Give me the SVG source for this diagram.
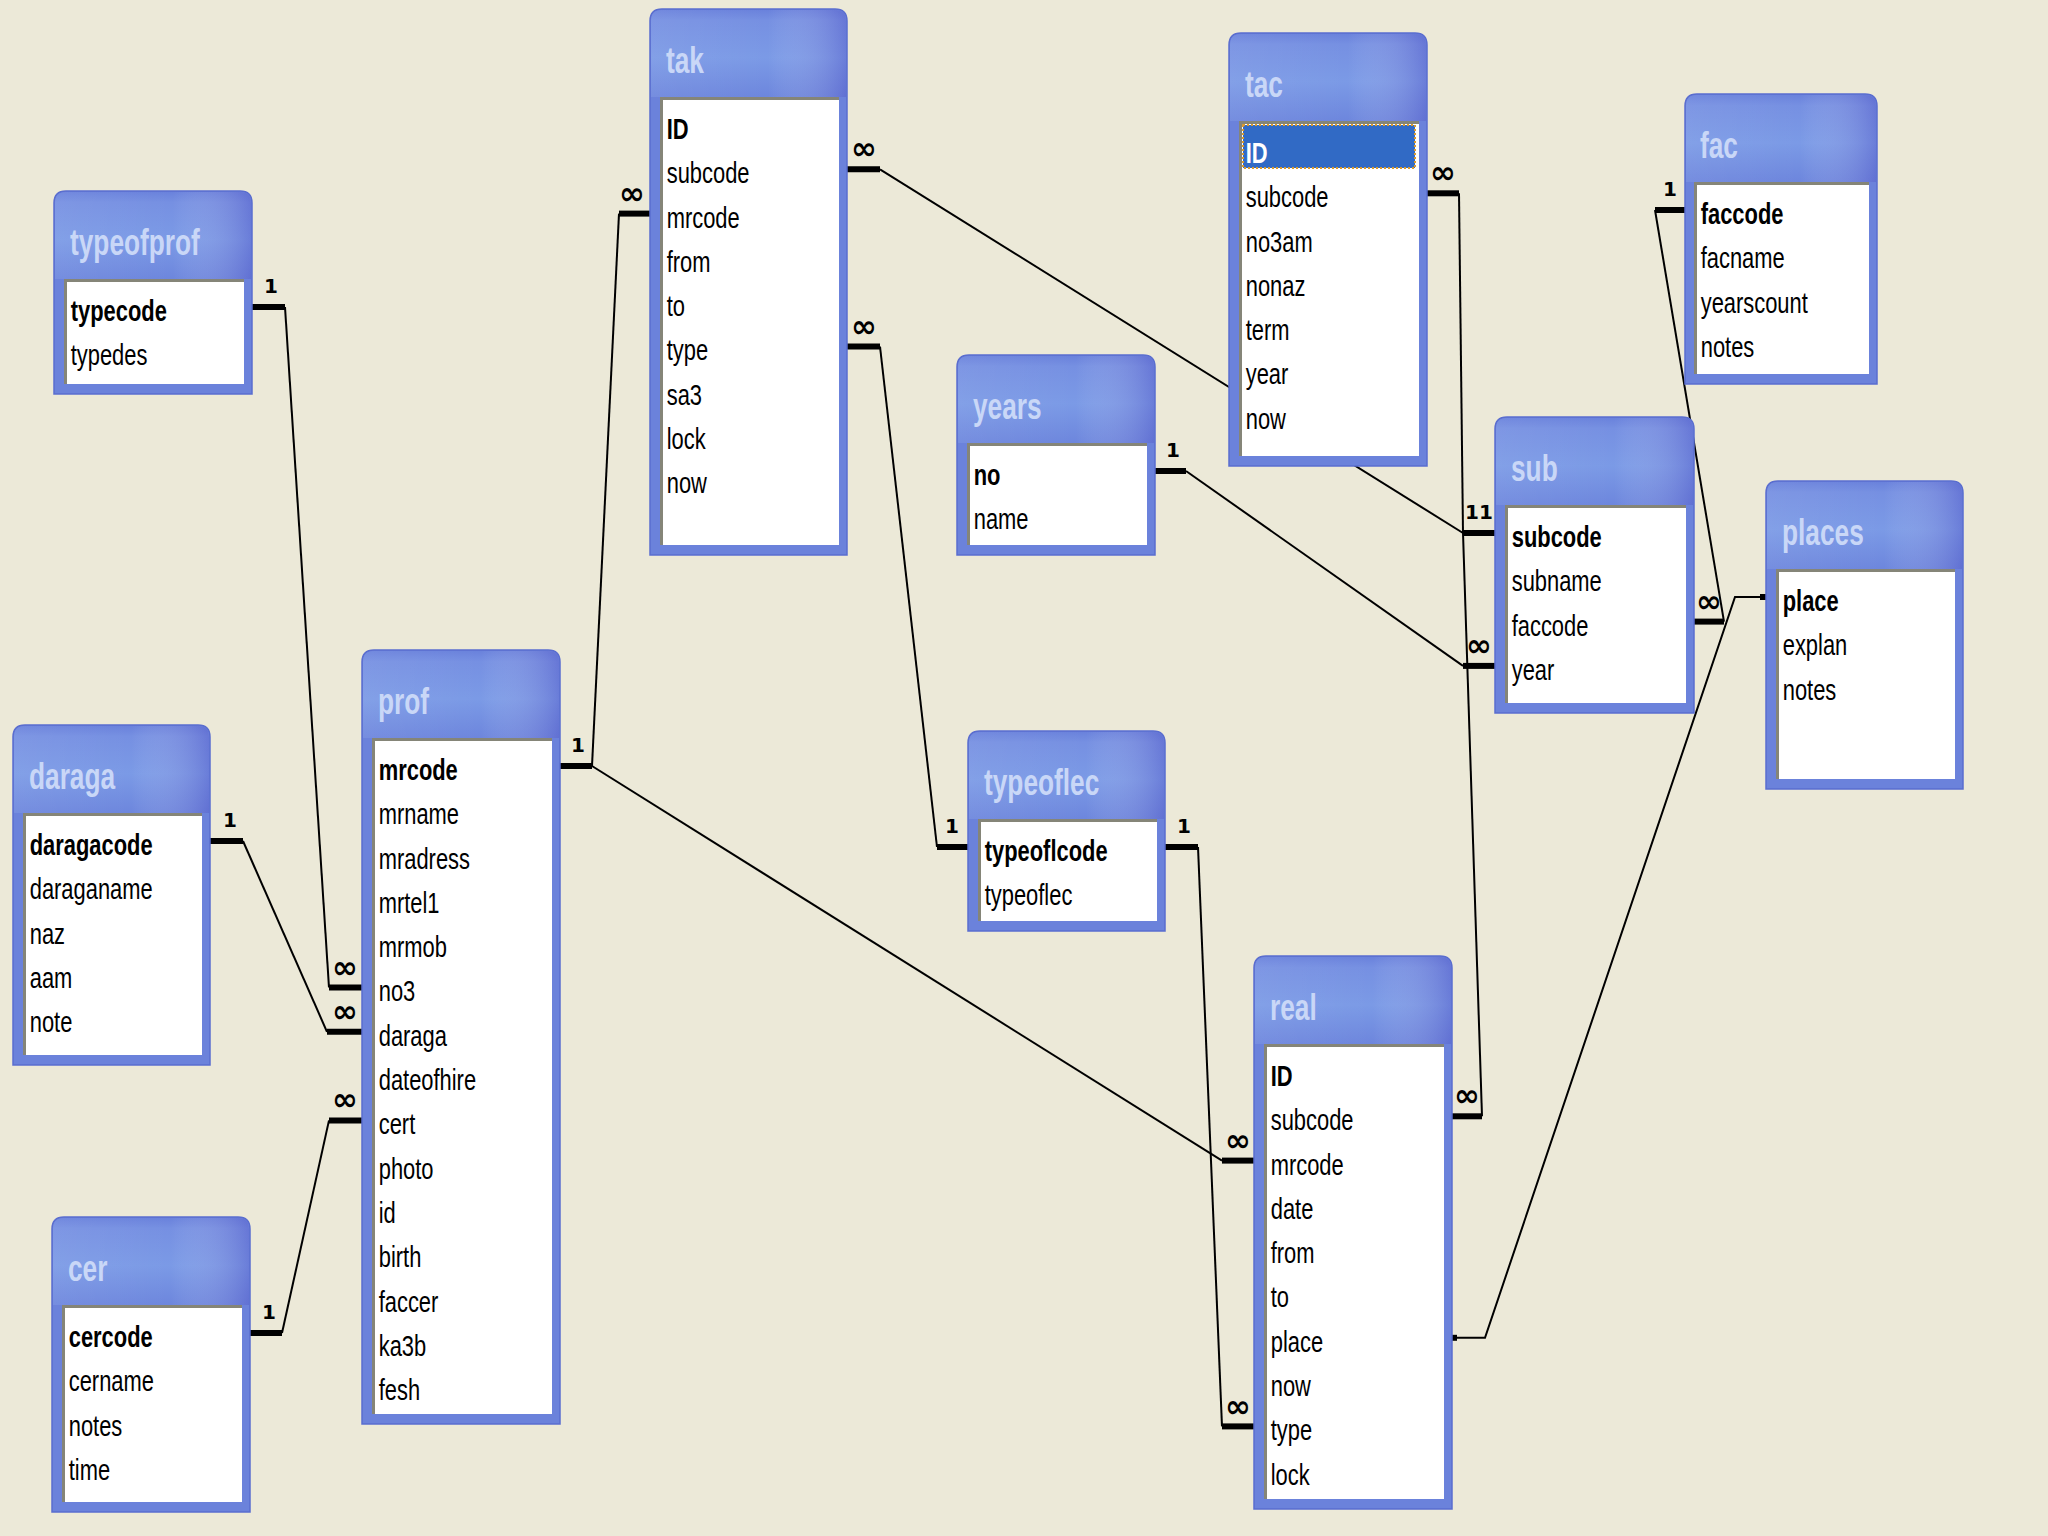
<svg xmlns="http://www.w3.org/2000/svg" width="2048" height="1536" viewBox="0 0 2048 1536">
<defs>
<linearGradient id="hg" x1="0" y1="0" x2="0" y2="1">
<stop offset="0" stop-color="#6a82dc"/>
<stop offset="0.12" stop-color="#7690e2"/>
<stop offset="0.55" stop-color="#7b9ae6"/>
<stop offset="1" stop-color="#6d86dd"/>
</linearGradient>
<linearGradient id="hh" x1="0" y1="0" x2="1" y2="0">
<stop offset="0" stop-color="#ffffff" stop-opacity="0.06"/>
<stop offset="0.6" stop-color="#ffffff" stop-opacity="0"/>
<stop offset="1" stop-color="#4a48c0" stop-opacity="0.35"/>
</linearGradient>
</defs>
<style>
.bg{fill:#ECE9D8}
.frame{fill:#6b82db;stroke:#5a6dcf;stroke-width:1.5}
.hdr{fill:url(#hg)}
.hov{fill:url(#hh)}
.list{fill:#ffffff}
.bev{fill:none;stroke:#858578;stroke-width:3}
.t{font-family:"Liberation Sans",Arial,sans-serif;font-size:36px;font-weight:bold;fill:#c9d7f7}
.f{font-family:"Liberation Sans",Arial,sans-serif;font-size:30px;fill:#000}
.k{font-weight:bold}
.thin{fill:none;stroke:#000;stroke-width:2}
.stub{fill:none;stroke:#000;stroke-width:6}
.one{font-family:"DejaVu Sans",sans-serif;font-weight:bold;font-size:20px;text-anchor:middle;fill:#000}
.inf{font-family:"DejaVu Sans",sans-serif;font-weight:bold;font-size:31px;text-anchor:middle;fill:#000}
.hl{fill:#316AC5;stroke:#d89a30;stroke-width:2;stroke-dasharray:2 2}
</style>
<rect class="bg" x="0" y="0" width="2048" height="1536"/>

<g id="connectors">
<!-- typeofprof.typecode -> prof.no3 -->
<path class="stub" d="M252,307 H285"/><path class="thin" d="M285,307 L329,987.5"/><path class="stub" d="M329,987.5 H362"/>
<text class="one" x="271" y="293">1</text><text class="inf" x="345" y="978">∞</text>
<!-- daraga.daragacode -> prof.daraga -->
<path class="stub" d="M210,841 H243"/><path class="thin" d="M243,841 L327,1031.8"/><path class="stub" d="M327,1031.8 H362"/>
<text class="one" x="230" y="827">1</text><text class="inf" x="345" y="1022">∞</text>
<!-- cer.cercode -> prof.cert -->
<path class="stub" d="M250,1333 H282"/><path class="thin" d="M282,1333 L329,1120.4"/><path class="stub" d="M329,1120.4 H362"/>
<text class="one" x="269" y="1319">1</text><text class="inf" x="345" y="1110">∞</text>
<!-- prof.mrcode -> tak.mrcode -->
<path class="stub" d="M560,766 H592"/><path class="thin" d="M592,766 L619,213.6"/><path class="stub" d="M619,213.6 H650"/>
<text class="one" x="578" y="752">1</text><text class="inf" x="632" y="204">∞</text>
<!-- prof.mrcode -> real.mrcode -->
<path class="thin" d="M592,766 L1222,1160.6"/><path class="stub" d="M1222,1160.6 H1254"/>
<text class="inf" x="1238" y="1151">∞</text>
<!-- tak.subcode -> sub.subcode -->
<path class="stub" d="M847,169.3 H880"/><path class="thin" d="M880,169.3 L1463,533"/><path class="stub" d="M1463,533 H1495"/>
<text class="inf" x="864" y="159">∞</text><text class="one" x="1472" y="519">1</text>
<!-- tac.subcode -> sub.subcode -->
<path class="stub" d="M1427,193.3 H1459"/><path class="thin" d="M1459,193.3 L1463,533"/>
<text class="inf" x="1443" y="183">∞</text><text class="one" x="1486" y="519">1</text>
<!-- sub.subcode -> real.subcode -->
<path class="thin" d="M1463,533 L1482,1116.3"/><path class="stub" d="M1482,1116.3 H1452"/>
<text class="inf" x="1467" y="1106">∞</text>
<!-- years.no -> sub.year -->
<path class="stub" d="M1155,471 H1186"/><path class="thin" d="M1186,471 L1463,665.9"/><path class="stub" d="M1463,665.9 H1495"/>
<text class="one" x="1173" y="457">1</text><text class="inf" x="1479" y="656">∞</text>
<!-- fac.faccode -> sub.faccode -->
<path class="stub" d="M1685,210 H1655"/><path class="thin" d="M1655,210 L1724,621.6"/><path class="stub" d="M1724,621.6 H1694"/>
<text class="one" x="1670" y="196">1</text><text class="inf" x="1709" y="612">∞</text>
<!-- places.place -> real.place -->
<path class="thin" d="M1766,597 H1735 L1485,1337.8 H1452"/>
<path class="stub" d="M1766,597 H1760"/><path class="stub" d="M1452,1337.8 H1457"/>
<!-- tak.type -> typeoflec.typeoflcode -->
<path class="stub" d="M847,346.5 H880"/><path class="thin" d="M880,346.5 L937,847"/><path class="stub" d="M937,847 H968"/>
<text class="inf" x="864" y="337">∞</text><text class="one" x="952" y="833">1</text>
<!-- typeoflec.typeoflcode -> real.type -->
<path class="stub" d="M1165,847 H1198"/><path class="thin" d="M1198,847 L1222,1426.4"/><path class="stub" d="M1222,1426.4 H1254"/>
<text class="one" x="1184" y="833">1</text><text class="inf" x="1238" y="1417">∞</text>
</g>

<g id="typeofprof" transform="translate(54,191)">
<path class="frame" d="M0,203 V12 Q0,0 12,0 H186 Q198,0 198,12 V203 Z"/>
<path class="hdr" d="M1,88 V12 Q1,1 12,1 H186 Q197,1 197,12 V88 Z"/><path class="hov" d="M1,88 V12 Q1,1 12,1 H186 Q197,1 197,12 V88 Z"/>
<rect class="list" x="10" y="88" width="180" height="105"/><path class="bev" d="M11.5,193 V89.5 H190"/>
<g transform="translate(16,0) scale(0.73,1)">
<text class="t" x="0" y="64">typeofprof</text>
<text class="f k" x="1" y="130">typecode</text>
<text class="f" x="1" y="174.3">typedes</text>
</g>
</g>

<g id="tak" transform="translate(650,9)">
<path class="frame" d="M0,546 V12 Q0,0 12,0 H185 Q197,0 197,12 V546 Z"/>
<path class="hdr" d="M1,88 V12 Q1,1 12,1 H185 Q196,1 196,12 V88 Z"/><path class="hov" d="M1,88 V12 Q1,1 12,1 H185 Q196,1 196,12 V88 Z"/>
<rect class="list" x="10" y="88" width="179" height="448"/><path class="bev" d="M11.5,536 V89.5 H189"/>
<g transform="translate(16,0) scale(0.73,1)">
<text class="t" x="0" y="64">tak</text>
<text class="f k" x="1" y="130">ID</text>
<text class="f" x="1" y="174.3">subcode</text>
<text class="f" x="1" y="218.6">mrcode</text>
<text class="f" x="1" y="262.9">from</text>
<text class="f" x="1" y="307.2">to</text>
<text class="f" x="1" y="351.5">type</text>
<text class="f" x="1" y="395.8">sa3</text>
<text class="f" x="1" y="440.1">lock</text>
<text class="f" x="1" y="484.4">now</text>
</g>
</g>

<g id="tac" transform="translate(1229,33)">
<path class="frame" d="M0,433 V12 Q0,0 12,0 H186 Q198,0 198,12 V433 Z"/>
<path class="hdr" d="M1,88 V12 Q1,1 12,1 H186 Q197,1 197,12 V88 Z"/><path class="hov" d="M1,88 V12 Q1,1 12,1 H186 Q197,1 197,12 V88 Z"/>
<rect class="list" x="10" y="88" width="180" height="335"/><path class="bev" d="M11.5,423 V89.5 H190"/>
<rect class="hl" x="14" y="92" width="172" height="43"/>
<g transform="translate(16,0) scale(0.73,1)">
<text class="t" x="0" y="64">tac</text>
<text class="f k" x="1" y="130" style="fill:#ffffff">ID</text>
<text class="f" x="1" y="174.3">subcode</text>
<text class="f" x="1" y="218.6">no3am</text>
<text class="f" x="1" y="262.9">nonaz</text>
<text class="f" x="1" y="307.2">term</text>
<text class="f" x="1" y="351.5">year</text>
<text class="f" x="1" y="395.8">now</text>
</g>
</g>

<g id="fac" transform="translate(1685,94)">
<path class="frame" d="M0,290 V12 Q0,0 12,0 H180 Q192,0 192,12 V290 Z"/>
<path class="hdr" d="M1,88 V12 Q1,1 12,1 H180 Q191,1 191,12 V88 Z"/><path class="hov" d="M1,88 V12 Q1,1 12,1 H180 Q191,1 191,12 V88 Z"/>
<rect class="list" x="9" y="88" width="175" height="192"/><path class="bev" d="M10.5,280 V89.5 H184"/>
<g transform="translate(15,0) scale(0.73,1)">
<text class="t" x="0" y="64">fac</text>
<text class="f k" x="1" y="130">faccode</text>
<text class="f" x="1" y="174.3">facname</text>
<text class="f" x="1" y="218.6">yearscount</text>
<text class="f" x="1" y="262.9">notes</text>
</g>
</g>

<g id="years" transform="translate(957,355)">
<path class="frame" d="M0,200 V12 Q0,0 12,0 H186 Q198,0 198,12 V200 Z"/>
<path class="hdr" d="M1,88 V12 Q1,1 12,1 H186 Q197,1 197,12 V88 Z"/><path class="hov" d="M1,88 V12 Q1,1 12,1 H186 Q197,1 197,12 V88 Z"/>
<rect class="list" x="10" y="88" width="180" height="102"/><path class="bev" d="M11.5,190 V89.5 H190"/>
<g transform="translate(16,0) scale(0.73,1)">
<text class="t" x="0" y="64">years</text>
<text class="f k" x="1" y="130">no</text>
<text class="f" x="1" y="174.3">name</text>
</g>
</g>

<g id="sub" transform="translate(1495,417)">
<path class="frame" d="M0,296 V12 Q0,0 12,0 H187 Q199,0 199,12 V296 Z"/>
<path class="hdr" d="M1,88 V12 Q1,1 12,1 H187 Q198,1 198,12 V88 Z"/><path class="hov" d="M1,88 V12 Q1,1 12,1 H187 Q198,1 198,12 V88 Z"/>
<rect class="list" x="10" y="88" width="181" height="198"/><path class="bev" d="M11.5,286 V89.5 H191"/>
<g transform="translate(16,0) scale(0.73,1)">
<text class="t" x="0" y="64">sub</text>
<text class="f k" x="1" y="130">subcode</text>
<text class="f" x="1" y="174.3">subname</text>
<text class="f" x="1" y="218.6">faccode</text>
<text class="f" x="1" y="262.9">year</text>
</g>
</g>

<g id="places" transform="translate(1766,481)">
<path class="frame" d="M0,308 V12 Q0,0 12,0 H185 Q197,0 197,12 V308 Z"/>
<path class="hdr" d="M1,88 V12 Q1,1 12,1 H185 Q196,1 196,12 V88 Z"/><path class="hov" d="M1,88 V12 Q1,1 12,1 H185 Q196,1 196,12 V88 Z"/>
<rect class="list" x="10" y="88" width="179" height="210"/><path class="bev" d="M11.5,298 V89.5 H189"/>
<g transform="translate(16,0) scale(0.73,1)">
<text class="t" x="0" y="64">places</text>
<text class="f k" x="1" y="130">place</text>
<text class="f" x="1" y="174.3">explan</text>
<text class="f" x="1" y="218.6">notes</text>
</g>
</g>

<g id="daraga" transform="translate(13,725)">
<path class="frame" d="M0,340 V12 Q0,0 12,0 H185 Q197,0 197,12 V340 Z"/>
<path class="hdr" d="M1,88 V12 Q1,1 12,1 H185 Q196,1 196,12 V88 Z"/><path class="hov" d="M1,88 V12 Q1,1 12,1 H185 Q196,1 196,12 V88 Z"/>
<rect class="list" x="10" y="88" width="179" height="242"/><path class="bev" d="M11.5,330 V89.5 H189"/>
<g transform="translate(16,0) scale(0.73,1)">
<text class="t" x="0" y="64">daraga</text>
<text class="f k" x="1" y="130">daragacode</text>
<text class="f" x="1" y="174.3">daraganame</text>
<text class="f" x="1" y="218.6">naz</text>
<text class="f" x="1" y="262.9">aam</text>
<text class="f" x="1" y="307.2">note</text>
</g>
</g>

<g id="prof" transform="translate(362,650)">
<path class="frame" d="M0,774 V12 Q0,0 12,0 H186 Q198,0 198,12 V774 Z"/>
<path class="hdr" d="M1,88 V12 Q1,1 12,1 H186 Q197,1 197,12 V88 Z"/><path class="hov" d="M1,88 V12 Q1,1 12,1 H186 Q197,1 197,12 V88 Z"/>
<rect class="list" x="10" y="88" width="180" height="676"/><path class="bev" d="M11.5,764 V89.5 H190"/>
<g transform="translate(16,0) scale(0.73,1)">
<text class="t" x="0" y="64">prof</text>
<text class="f k" x="1" y="130">mrcode</text>
<text class="f" x="1" y="174.3">mrname</text>
<text class="f" x="1" y="218.6">mradress</text>
<text class="f" x="1" y="262.9">mrtel1</text>
<text class="f" x="1" y="307.2">mrmob</text>
<text class="f" x="1" y="351.5">no3</text>
<text class="f" x="1" y="395.8">daraga</text>
<text class="f" x="1" y="440.1">dateofhire</text>
<text class="f" x="1" y="484.4">cert</text>
<text class="f" x="1" y="528.7">photo</text>
<text class="f" x="1" y="573">id</text>
<text class="f" x="1" y="617.3">birth</text>
<text class="f" x="1" y="661.6">faccer</text>
<text class="f" x="1" y="705.9">ka3b</text>
<text class="f" x="1" y="750.2">fesh</text>
</g>
</g>

<g id="typeoflec" transform="translate(968,731)">
<path class="frame" d="M0,200 V12 Q0,0 12,0 H185 Q197,0 197,12 V200 Z"/>
<path class="hdr" d="M1,88 V12 Q1,1 12,1 H185 Q196,1 196,12 V88 Z"/><path class="hov" d="M1,88 V12 Q1,1 12,1 H185 Q196,1 196,12 V88 Z"/>
<rect class="list" x="10" y="88" width="179" height="102"/><path class="bev" d="M11.5,190 V89.5 H189"/>
<g transform="translate(16,0) scale(0.73,1)">
<text class="t" x="0" y="64">typeoflec</text>
<text class="f k" x="1" y="130">typeoflcode</text>
<text class="f" x="1" y="174.3">typeoflec</text>
</g>
</g>

<g id="real" transform="translate(1254,956)">
<path class="frame" d="M0,553 V12 Q0,0 12,0 H186 Q198,0 198,12 V553 Z"/>
<path class="hdr" d="M1,88 V12 Q1,1 12,1 H186 Q197,1 197,12 V88 Z"/><path class="hov" d="M1,88 V12 Q1,1 12,1 H186 Q197,1 197,12 V88 Z"/>
<rect class="list" x="10" y="88" width="180" height="455"/><path class="bev" d="M11.5,543 V89.5 H190"/>
<g transform="translate(16,0) scale(0.73,1)">
<text class="t" x="0" y="64">real</text>
<text class="f k" x="1" y="130">ID</text>
<text class="f" x="1" y="174.3">subcode</text>
<text class="f" x="1" y="218.6">mrcode</text>
<text class="f" x="1" y="262.9">date</text>
<text class="f" x="1" y="307.2">from</text>
<text class="f" x="1" y="351.5">to</text>
<text class="f" x="1" y="395.8">place</text>
<text class="f" x="1" y="440.1">now</text>
<text class="f" x="1" y="484.4">type</text>
<text class="f" x="1" y="528.7">lock</text>
</g>
</g>

<g id="cer" transform="translate(52,1217)">
<path class="frame" d="M0,295 V12 Q0,0 12,0 H186 Q198,0 198,12 V295 Z"/>
<path class="hdr" d="M1,88 V12 Q1,1 12,1 H186 Q197,1 197,12 V88 Z"/><path class="hov" d="M1,88 V12 Q1,1 12,1 H186 Q197,1 197,12 V88 Z"/>
<rect class="list" x="10" y="88" width="180" height="197"/><path class="bev" d="M11.5,285 V89.5 H190"/>
<g transform="translate(16,0) scale(0.73,1)">
<text class="t" x="0" y="64">cer</text>
<text class="f k" x="1" y="130">cercode</text>
<text class="f" x="1" y="174.3">cername</text>
<text class="f" x="1" y="218.6">notes</text>
<text class="f" x="1" y="262.9">time</text>
</g>
</g>
</svg>
